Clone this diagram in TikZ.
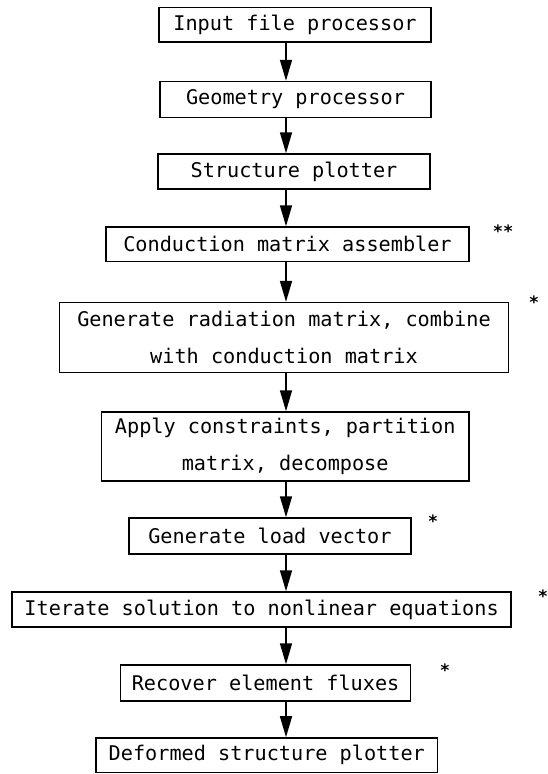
\documentclass[tikz,border=0pt]{standalone}
\usepackage{fontspec}
\setmonofont{DejaVu Sans Mono}
\usetikzlibrary{arrows.meta}
\tikzset{
  x=1pt, y=-1pt,
  box/.style={draw, line width=1.5pt, inner sep=0pt, align=center,
    font=\ttfamily\fontsize{20.2}{37}\selectfont},
  arr/.style={line width=1.6pt, -{Triangle[length=21pt,width=12pt]}},
  star/.style={inner sep=0pt, anchor=north, font=\ttfamily\bfseries\fontsize{17}{20}\selectfont}
}
\begin{document}
\begin{tikzpicture}
\useasboundingbox (0,0) rectangle (548,774);
\coordinate (ax) at (286,0);
\node[box, minimum width=272pt, minimum height=34.6pt] (n1) at (295,24.7) {Input file processor};
\node[box, minimum width=271pt, minimum height=36pt] (n2) at (295.5,99.5) {Geometry processor};
\node[box, minimum width=272pt, minimum height=35pt] (n3) at (294,171.5) {Structure plotter};
\node[box, minimum width=363pt, minimum height=34.6pt] (n4) at (287.5,244.3) {Conduction matrix assembler};
\node[box, minimum width=449pt, minimum height=70pt] (n5) at (284,337.6) {Generate radiation matrix, combine\\with conduction matrix};
\node[box, minimum width=367.6pt, minimum height=69pt] (n6) at (285.2,446.5) {Apply constraints, partition\\matrix, decompose};
\node[box, minimum width=281.7pt, minimum height=35.8pt] (n7) at (269.9,535.9) {Generate load vector};
\node[box, minimum width=498.8pt, minimum height=35pt] (n8) at (261.6,609.5) {Iterate solution to nonlinear equations};
\node[box, minimum width=290pt, minimum height=36pt] (n9) at (265.6,683) {Recover element fluxes};
\node[box, minimum width=341.6pt, minimum height=34.5pt] (n10) at (266.8,755.2) {Deformed structure plotter};
\foreach \a/\b in {n1/n2,n2/n3,n3/n4,n4/n5,n5/n6,n6/n7,n7/n8,n8/n9,n9/n10}
  \draw[arr] (\a.south -| ax) -- (\b.north -| ax);
\node[star] (s4) at (503,224.6) {**};
\node[star] (s5) at (534,296) {*};
\node[star] (s7) at (433,515) {*};
\node[star] (s8) at (543,590) {*};
\node[star] (s9) at (445,664) {*};
\end{tikzpicture}
\end{document}
